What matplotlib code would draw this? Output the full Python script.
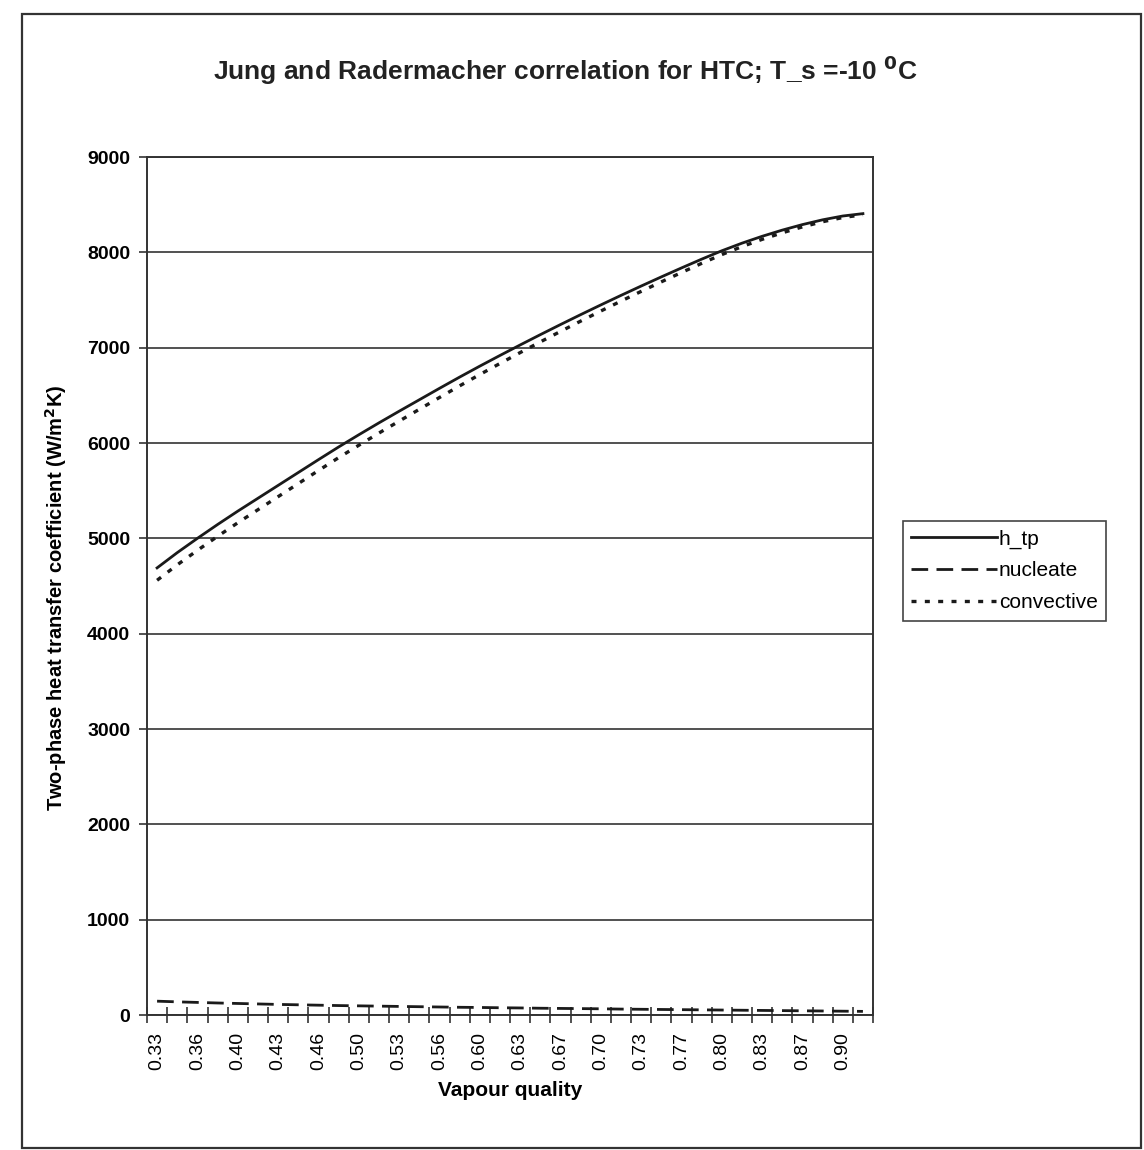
import matplotlib.pyplot as plt
from matplotlib.patches import Rectangle
from matplotlib.ticker import FixedLocator, MultipleLocator

plt.rcParams["font.family"] = ["Liberation Sans", "DejaVu Sans"]

# vapour quality categories, 1/60 apart
quality = [
    0.333, 0.350, 0.367, 0.383, 0.400, 0.417, 0.433, 0.450, 0.467, 0.483,
    0.500, 0.517, 0.533, 0.550, 0.567, 0.583, 0.600, 0.617, 0.633, 0.650,
    0.667, 0.683, 0.700, 0.717, 0.733, 0.750, 0.767, 0.783, 0.800, 0.817,
    0.833, 0.850, 0.867, 0.883, 0.900, 0.917,
]

# labels printed under every other category
quality_labels = [
    "0.33", "0.36", "0.40", "0.43", "0.46", "0.50", "0.53", "0.56", "0.60",
    "0.63", "0.67", "0.70", "0.73", "0.77", "0.80", "0.83", "0.87", "0.90",
]

h_tp = [
    4690, 4850, 5000, 5145, 5285, 5420, 5555, 5690, 5825, 5958,
    6086, 6211, 6333, 6453, 6573, 6691, 6806, 6918, 7028, 7136,
    7242, 7346, 7448, 7548, 7646, 7742, 7836, 7928, 8016, 8096,
    8168, 8233, 8291, 8341, 8381, 8406,
]

nucleate = [
    145, 138, 132, 126, 121, 116, 111, 107, 103, 99,
    96, 93, 90, 87, 84, 81, 79, 76, 74, 71,
    69, 67, 65, 62, 60, 58, 56, 54, 52, 50,
    48, 46, 44, 42, 40, 38,
]

convective = [
    4560, 4722, 4874, 5021, 5163, 5300, 5437, 5574, 5711, 5846,
    5976, 6104, 6229, 6353, 6477, 6599, 6718, 6834, 6948, 7060,
    7170, 7278, 7384, 7488, 7590, 7690, 7788, 7884, 7976, 8060,
    8136, 8205, 8267, 8321, 8365, 8394,
]

title = "Jung and Radermacher correlation for HTC; T_s =-10 $^{\\mathbf{0}}$C"

fig = plt.figure(figsize=(11.44, 11.5), dpi=100)
ax = fig.add_axes([147 / 1144, 1 - 1015 / 1150, 726 / 1144, 858 / 1150])

pos = list(range(len(quality)))
ax.plot(pos, h_tp, color="#1a1a1a", lw=2.0, ls="-", label="h_tp")
ax.plot(pos, nucleate, color="#1a1a1a", lw=2.0, ls=(0, (6, 3)), label="nucleate")
ax.plot(pos, convective, color="#1a1a1a", lw=2.4, ls=(0, (1.5, 2.5)), label="convective")

ax.set_xlim(-0.5, len(quality) - 0.5)
ax.set_ylim(0, 9000)

# every other category is labelled
ax.xaxis.set_major_locator(FixedLocator(pos[::2]))
ax.set_xticklabels(quality_labels, rotation=90, fontsize=14)
ax.xaxis.set_minor_locator(FixedLocator([p - 0.5 for p in pos] + [pos[-1] + 0.5]))
ax.tick_params(axis="x", which="major", length=0, pad=12)
ax.tick_params(axis="x", which="minor", direction="inout", length=12, width=1.2, color="#333333")

ax.yaxis.set_major_locator(MultipleLocator(1000))
ax.tick_params(axis="y", direction="out", length=6, width=1.2, color="#333333", labelsize=14, pad=6)
for lab in ax.get_yticklabels():
    lab.set_fontweight("bold")

ax.grid(axis="y", color="#333333", lw=1.2)
ax.set_axisbelow(True)
for sp in ax.spines.values():
    sp.set_color("#333333")
    sp.set_linewidth(1.4)

ax.set_xlabel("Vapour quality", fontsize=15, fontweight="bold", labelpad=8)
ax.set_ylabel("Two-phase heat transfer coefficient (W/m$^{\\mathbf{2}}$K)",
              fontsize=14.5, fontweight="bold")
ax.yaxis.set_label_coords(-0.108, 0.486)

fig.text(565 / 1144, 1 - 70 / 1150, title, ha="center", va="center",
         fontsize=19, fontweight="bold", color="#222222")

leg = fig.legend(loc="upper left", bbox_to_anchor=(903 / 1144, 1 - 521 / 1150),
                 fontsize=15, handlelength=4.1, handletextpad=0.1,
                 labelspacing=0.62, borderpad=0.4, borderaxespad=0,
                 fancybox=False, framealpha=1, edgecolor="#444444")
leg.get_frame().set_linewidth(1.2)

# border round the whole chart
fig.patches.append(Rectangle((22 / 1144, 1 - 1148 / 1150), 1119 / 1144, 1134 / 1150,
                             transform=fig.transFigure, fill=False,
                             edgecolor="#333333", lw=1.6))

fig.savefig("out.png", dpi=100)
